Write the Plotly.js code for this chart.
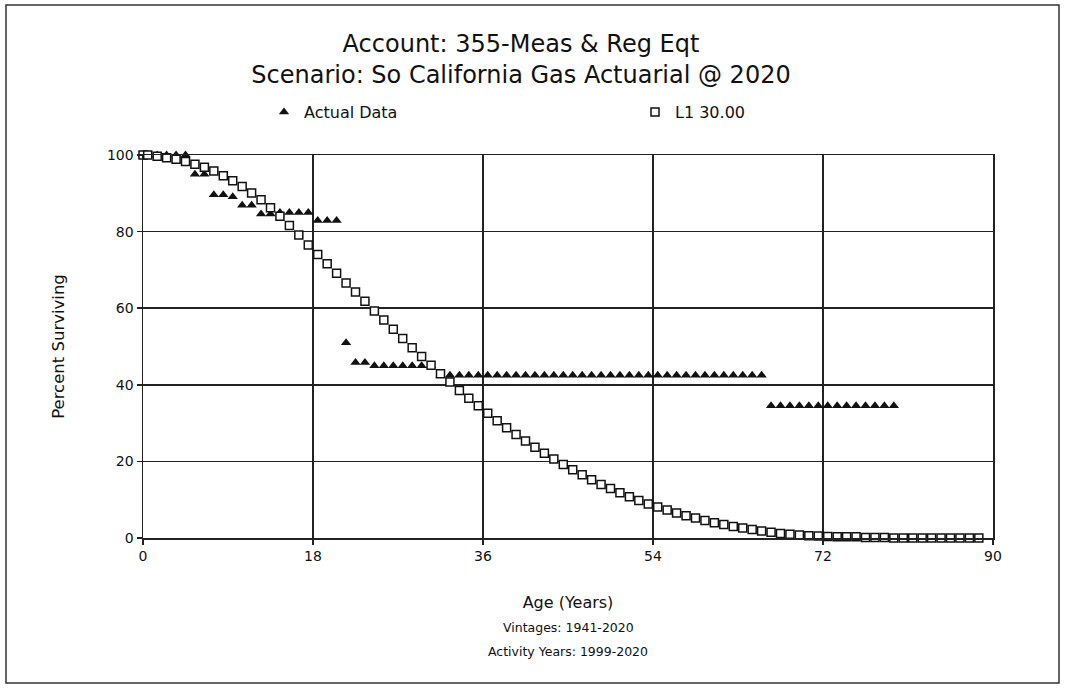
<!DOCTYPE html>
<html>
<head>
<meta charset="utf-8">
<script src="https://cdn.plot.ly/plotly-3.0.1.min.js"></script>
<style>
  html, body { margin: 0; padding: 0; background: #ffffff; }
  #chart { width: 1066px; height: 688px; }
</style>
</head>
<body>
<div id="chart"></div>
<script>
// ---- Data ----
var actualAge = [0, 0.5, 1.5, 2.5, 3.5, 4.5, 5.5, 6.5, 7.5, 8.5, 9.5, 10.5, 11.5, 12.5, 13.5, 14.5, 15.5, 16.5, 17.5, 18.5, 19.5,
  20.5, 21.5, 22.5, 23.5, 24.5, 25.5, 26.5, 27.5, 28.5, 29.5, 30.5, 31.5, 32.5, 33.5, 34.5, 35.5, 36.5, 37.5, 38.5, 39.5,
  40.5, 41.5, 42.5, 43.5, 44.5, 45.5, 46.5, 47.5, 48.5, 49.5, 50.5, 51.5, 52.5, 53.5, 54.5, 55.5, 56.5, 57.5, 58.5, 59.5,
  60.5, 61.5, 62.5, 63.5, 64.5, 65.5, 66.5, 67.5, 68.5, 69.5, 70.5, 71.5, 72.5, 73.5, 74.5, 75.5, 76.5, 77.5, 78.5, 79.5];
var actualPct = [100, 100, 100, 100, 100, 100, 95.0, 95.0, 89.6, 89.6, 89.1, 86.9, 86.9, 84.6, 84.6, 85.0, 85.0, 85.0, 85.0, 82.9, 82.9,
  82.9, 51.0, 45.8, 45.8, 45.0, 45.0, 45.0, 45.0, 45.0, 45.0, 45.0, 42.5, 42.5, 42.5, 42.5, 42.5, 42.5, 42.5, 42.5, 42.5,
  42.5, 42.5, 42.5, 42.5, 42.5, 42.5, 42.5, 42.5, 42.5, 42.5, 42.5, 42.5, 42.5, 42.5, 42.5, 42.5, 42.5, 42.5, 42.5, 42.5,
  42.5, 42.5, 42.5, 42.5, 42.5, 42.5, 34.5, 34.5, 34.5, 34.5, 34.5, 34.5, 34.5, 34.5, 34.5, 34.5, 34.5, 34.5, 34.5, 34.5];

var curveAge = [0, 0.5, 1.5, 2.5, 3.5, 4.5, 5.5, 6.5, 7.5, 8.5, 9.5, 10.5, 11.5, 12.5, 13.5, 14.5, 15.5, 16.5, 17.5, 18.5, 19.5,
  20.5, 21.5, 22.5, 23.5, 24.5, 25.5, 26.5, 27.5, 28.5, 29.5, 30.5, 31.5, 32.5, 33.5, 34.5, 35.5, 36.5, 37.5, 38.5, 39.5,
  40.5, 41.5, 42.5, 43.5, 44.5, 45.5, 46.5, 47.5, 48.5, 49.5, 50.5, 51.5, 52.5, 53.5, 54.5, 55.5, 56.5, 57.5, 58.5, 59.5,
  60.5, 61.5, 62.5, 63.5, 64.5, 65.5, 66.5, 67.5, 68.5, 69.5, 70.5, 71.5, 72.5, 73.5, 74.5, 75.5, 76.5, 77.5, 78.5, 79.5,
  80.5, 81.5, 82.5, 83.5, 84.5, 85.5, 86.5, 87.5, 88.5];
var curvePct = [100, 100, 99.7, 99.3, 98.9, 98.3, 97.6, 96.8, 95.8, 94.6, 93.3, 91.8, 90.1, 88.3, 86.2, 84.0, 81.6, 79.1, 76.5, 74.0, 71.6,
  69.1, 66.6, 64.2, 61.8, 59.3, 56.9, 54.5, 52.1, 49.7, 47.4, 45.1, 42.9, 40.7, 38.5, 36.5, 34.5, 32.6, 30.6, 28.8, 27.0,
  25.3, 23.7, 22.1, 20.6, 19.2, 17.8, 16.5, 15.2, 14.0, 12.9, 11.8, 10.8, 9.8, 8.9, 8.1, 7.3, 6.5, 5.8, 5.2, 4.6,
  4.0, 3.5, 3.0, 2.6, 2.2, 1.8, 1.5, 1.2, 1.0, 0.8, 0.6, 0.5, 0.4, 0.3, 0.3, 0.3, 0.1, 0.1, 0.1, 0.0,
  0.0, 0.0, 0.0, 0.0, 0.0, 0.0, 0.0, 0.0, 0.0];

var xTicks = [0, 18, 36, 54, 72, 90];
var yTicks = [0, 20, 40, 60, 80, 100];

var titleLines = ['Account: 355-Meas & Reg Eqt', 'Scenario: So California Gas Actuarial @ 2020'];
var xTitleLines = ['Age (Years)', 'Vintages: 1941-2020', 'Activity Years: 1999-2020'];
var yTitle = 'Percent Surviving';
var seriesNames = ['Actual Data', 'L1 30.00'];

// ---- Chart ----
var FONT = 'DejaVu Sans, Arial, sans-serif';
var INK = '#111111';

var traces = [
  {
    x: actualAge, y: actualPct, name: seriesNames[0], type: 'scatter', mode: 'markers',
    cliponaxis: false,
    marker: { symbol: 'triangle-up', size: 9, color: INK, line: { width: 0 } }
  },
  {
    x: curveAge, y: curvePct, name: seriesNames[1], type: 'scatter', mode: 'markers',
    cliponaxis: false,
    marker: { symbol: 'square', size: 8, color: '#ffffff', line: { width: 1.5, color: INK } }
  }
];

var W = 1066, H = 688;
var L = 143, R = 993, T = 155, B = 538;
function px(xp) { return (xp - L) / (R - L); }
function py(yp) { return (B - yp) / (B - T); }

var layout = {
  width: W, height: H,
  paper_bgcolor: '#ffffff', plot_bgcolor: '#ffffff',
  margin: { l: L, r: W - R, t: T, b: H - B, pad: 0 },
  font: { family: FONT, color: INK, size: 15 },
  title: {
    text: titleLines.join('<br>'),
    font: { family: FONT, size: 24, color: INK },
    x: 521 / W, xanchor: 'center', xref: 'container',
    y: 1 - 52 / H, yanchor: 'top', yref: 'container'
  },
  showlegend: true,
  legend: {
    orientation: 'h', x: px(264), xanchor: 'left', y: py(112), yanchor: 'middle',
    font: { family: FONT, size: 16, color: INK },
    entrywidth: 326, entrywidthmode: 'pixels',
    bgcolor: 'rgba(0,0,0,0)', borderwidth: 0, traceorder: 'normal'
  },
  xaxis: {
    range: [0, 90], tickvals: xTicks, ticktext: xTicks.map(String),
    showgrid: true, gridcolor: '#222222', gridwidth: 1.5,
    showline: true, linecolor: '#222222', linewidth: 1.5, mirror: true,
    ticks: 'outside', ticklen: 5, tickwidth: 1.5, tickcolor: '#222222',
    zeroline: false,
    tickfont: { family: FONT, size: 14, color: INK },
    title: { text: xTitleLines[0], font: { family: FONT, size: 16, color: INK }, standoff: 33 }
  },
  yaxis: {
    range: [0, 100], tickvals: yTicks, ticktext: yTicks.map(String),
    showgrid: true, gridcolor: '#222222', gridwidth: 1.5,
    showline: true, linecolor: '#222222', linewidth: 1.5, mirror: true,
    ticks: 'outside', ticklen: 5, tickwidth: 1.5, tickcolor: '#222222',
    zeroline: false,
    tickfont: { family: FONT, size: 14, color: INK },
    title: { text: yTitle, font: { family: FONT, size: 16.5, color: INK }, standoff: 38 }
  },
  annotations: [
    { text: xTitleLines[1], xref: 'paper', yref: 'paper', x: 0.5, y: py(627), xanchor: 'center', yanchor: 'middle',
      showarrow: false, font: { family: FONT, size: 12.5, color: INK } },
    { text: xTitleLines[2], xref: 'paper', yref: 'paper', x: 0.5, y: py(651), xanchor: 'center', yanchor: 'middle',
      showarrow: false, font: { family: FONT, size: 12.5, color: INK } }
  ],
  shapes: [
    { type: 'rect', xref: 'paper', yref: 'paper', x0: px(6), x1: px(1059), y0: py(683), y1: py(5),
      line: { color: '#333333', width: 1.5 }, fillcolor: 'rgba(0,0,0,0)', layer: 'below' }
  ]
};

Plotly.newPlot('chart', traces, layout, { displayModeBar: false, staticPlot: true });
</script>
</body>
</html>
